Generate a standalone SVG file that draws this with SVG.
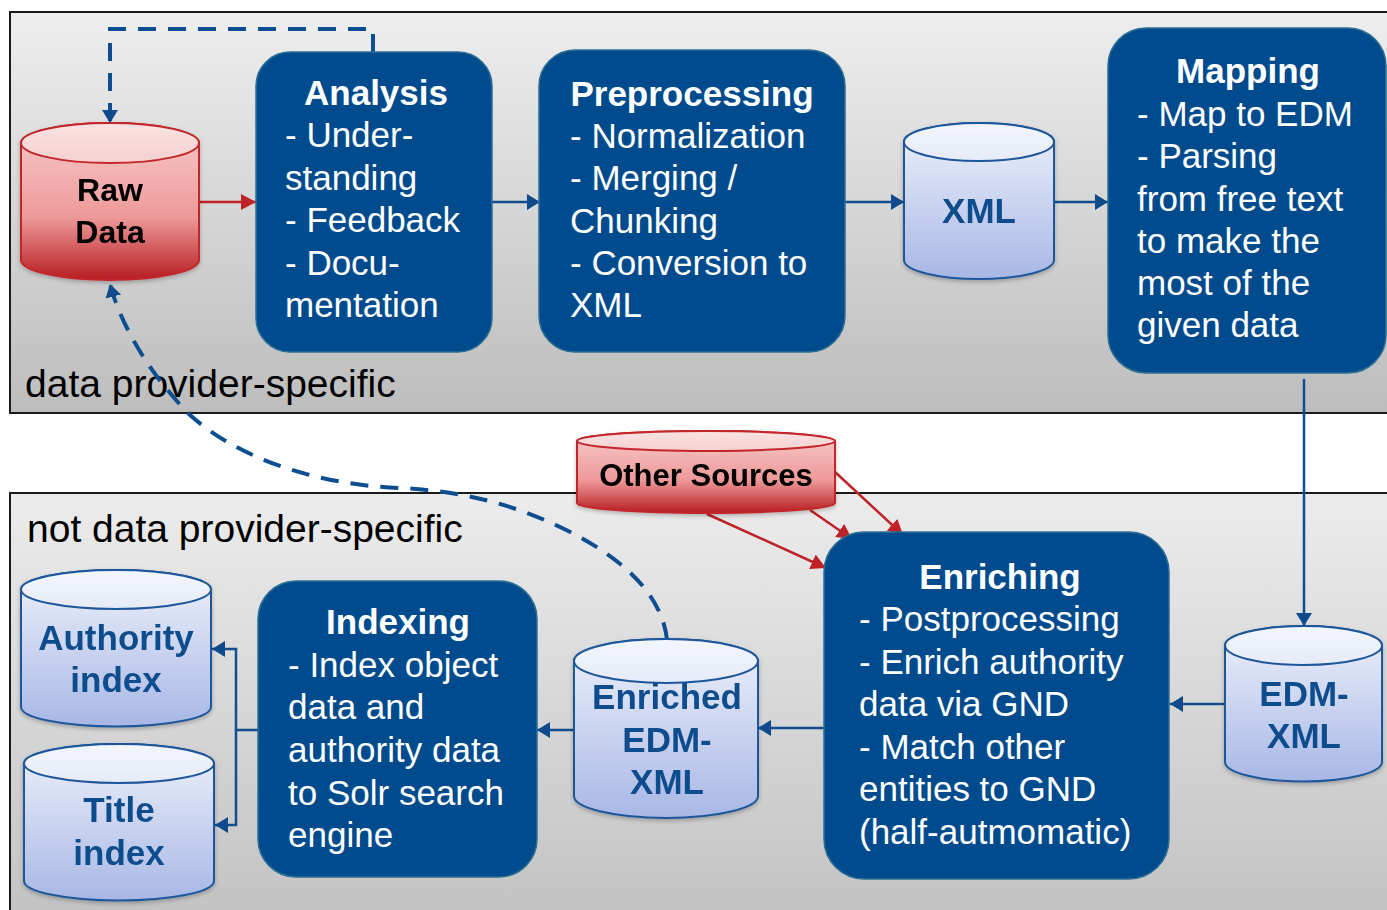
<svg xmlns="http://www.w3.org/2000/svg" width="1387" height="910" viewBox="0 0 1387 910">
<defs>
  <linearGradient id="gPanelTop" x1="0" y1="0" x2="0" y2="1">
    <stop offset="0" stop-color="#eeeeee"/><stop offset="1" stop-color="#bdbdbd"/>
  </linearGradient>
  <linearGradient id="gPanelBot" x1="0" y1="0" x2="0" y2="1">
    <stop offset="0" stop-color="#ececec"/><stop offset="1" stop-color="#c2c2c2"/>
  </linearGradient>
  <linearGradient id="gBlue" x1="0" y1="0" x2="0" y2="1">
    <stop offset="0" stop-color="#eef2fb"/><stop offset="1" stop-color="#a8b7e5"/>
  </linearGradient>
  <linearGradient id="gBlueTop" x1="0" y1="0" x2="0" y2="1">
    <stop offset="0" stop-color="#f3f6fd"/><stop offset="1" stop-color="#e6ebf8"/>
  </linearGradient>
  <linearGradient id="gRed" x1="0" y1="0" x2="0" y2="1">
    <stop offset="0" stop-color="#f8cccc"/><stop offset="0.6" stop-color="#ee9999"/><stop offset="1" stop-color="#b71d21"/>
  </linearGradient>
  <linearGradient id="gRedTop" x1="0" y1="0" x2="0" y2="1">
    <stop offset="0" stop-color="#fbe3e3"/><stop offset="1" stop-color="#f6d0d0"/>
  </linearGradient>
  <marker id="aBlue" markerUnits="userSpaceOnUse" markerWidth="14" markerHeight="16" refX="13" refY="8" orient="auto">
    <path d="M0,0 L13,8 L0,16 z" fill="#0f4a8c"/>
  </marker>
  <marker id="aRed" markerUnits="userSpaceOnUse" markerWidth="16" markerHeight="16" refX="15" refY="8" orient="auto">
    <path d="M0,0 L15,8 L0,16 z" fill="#bf2227"/>
  </marker>
  <filter id="sh" x="-10%" y="-10%" width="120%" height="130%">
    <feDropShadow dx="0" dy="2" stdDeviation="2" flood-color="#000" flood-opacity="0.25"/>
  </filter>
</defs>
<style>
  .panel{stroke:#1a1a1a;stroke-width:2}
  .box{fill:#004b8d;stroke:#2b7093;stroke-width:1.5}
  .t{font-family:"Liberation Sans",Arial,sans-serif;font-size:35px;fill:#ffffff}
  .tb{font-family:"Liberation Sans",Arial,sans-serif;font-size:35px;font-weight:bold;fill:#ffffff}
  .lbl{font-family:"Liberation Sans",Arial,sans-serif;font-size:39px;fill:#000000}
  .cb{fill:url(#gBlue);stroke:#1f579b;stroke-width:2}
  .ct{fill:url(#gBlueTop);stroke:#1f579b;stroke-width:2}
  .cr{fill:url(#gRed);stroke:#c3262b;stroke-width:2}
  .crt{fill:url(#gRedTop);stroke:#c3262b;stroke-width:2}
  .ctxt{font-family:"Liberation Sans",Arial,sans-serif;font-size:35px;font-weight:bold;fill:#114d8d;text-anchor:middle}
  .rtxt{font-family:"Liberation Sans",Arial,sans-serif;font-weight:bold;fill:#000000;text-anchor:middle}
  .ln{fill:none;stroke:#124d8e;stroke-width:2.5}
  .lr{fill:none;stroke:#bf2227;stroke-width:2.5}
  .dash{fill:none;stroke:#0d4e91;stroke-width:4;stroke-dasharray:18 12}
</style>

<g id="panels">
  <rect class="panel" x="10" y="12" width="1395" height="401" fill="url(#gPanelTop)"/>
  <rect class="panel" x="10" y="493" width="1395" height="430" fill="url(#gPanelBot)"/>
  <text class="lbl" x="25" y="397">data provider-specific</text>
  <text class="lbl" x="27" y="542">not data provider-specific</text>
</g>

<g id="connectors">
  <path class="lr" d="M199,202 H256" marker-end="url(#aRed)"/>
  <path class="ln" d="M492,202 H540" marker-end="url(#aBlue)"/>
  <path class="ln" d="M845,202 H904" marker-end="url(#aBlue)"/>
  <path class="ln" d="M1054,202 H1108" marker-end="url(#aBlue)"/>
  <path class="ln" d="M1304,379 V626" marker-end="url(#aBlue)"/>
  <path class="ln" d="M1225,704 H1170" marker-end="url(#aBlue)"/>
  <path class="ln" d="M824,728 H758" marker-end="url(#aBlue)"/>
  <path class="ln" d="M574,730 H537" marker-end="url(#aBlue)"/>
  <path class="ln" d="M258,730 H236 V649 H212" marker-end="url(#aBlue)"/>
  <path class="ln" d="M236,730 V825 H215" marker-end="url(#aBlue)"/>
  <path class="lr" d="M707,514 L826,568" marker-end="url(#aRed)"/>
  <path class="lr" d="M810,510 L852,539" marker-end="url(#aRed)"/>
  <path class="lr" d="M835,472 L903,535" marker-end="url(#aRed)"/>
  <path class="dash" d="M373,52 V29 H110 V123" marker-end="url(#aBlue)"/>
  <path class="dash" d="M667,640 C663,600 630,560 560,527 C510,503 460,491 400,488 C320,485 240,460 190,415 C155,380 122,330 110,284" marker-end="url(#aBlue)"/>
</g>

<g id="raw-data" filter="url(#sh)">
  <path class="cr" d="M21,143 V260 A89,20 0 0 0 199,260 V143 A89,20 0 0 0 21,143 Z"/>
  <ellipse class="crt" cx="110" cy="143" rx="89" ry="20"/>
  <text class="rtxt" x="110" y="201" font-size="32">Raw</text>
  <text class="rtxt" x="110" y="243" font-size="32">Data</text>
</g>

<g id="analysis">
  <rect class="box" x="256" y="52" width="236" height="300" rx="34"/>
  <text class="tb" x="376" y="105" text-anchor="middle">Analysis</text>
  <text class="t" x="285" y="147">- Under-</text>
  <text class="t" x="285" y="190">standing</text>
  <text class="t" x="285" y="232">- Feedback</text>
  <text class="t" x="285" y="275">- Docu-</text>
  <text class="t" x="285" y="317">mentation</text>
</g>

<g id="preprocessing">
  <rect class="box" x="539" y="50" width="306" height="302" rx="36"/>
  <text class="tb" x="692" y="106" text-anchor="middle">Preprocessing</text>
  <text class="t" x="570" y="148">- Normalization</text>
  <text class="t" x="570" y="190">- Merging /</text>
  <text class="t" x="570" y="233">Chunking</text>
  <text class="t" x="570" y="275">- Conversion to</text>
  <text class="t" x="570" y="317">XML</text>
</g>

<g id="xml" filter="url(#sh)">
  <path class="cb" d="M904,142 V260 A75,19 0 0 0 1054,260 V142 A75,19 0 0 0 904,142 Z"/>
  <ellipse class="ct" cx="979" cy="142" rx="75" ry="19"/>
  <text class="ctxt" x="979" y="223">XML</text>
</g>

<g id="mapping">
  <rect class="box" x="1108" y="28" width="278" height="345" rx="38"/>
  <text class="tb" x="1248" y="83" text-anchor="middle">Mapping</text>
  <text class="t" x="1137" y="126">- Map to EDM</text>
  <text class="t" x="1137" y="168">- Parsing</text>
  <text class="t" x="1137" y="211">from free text</text>
  <text class="t" x="1137" y="253">to make the</text>
  <text class="t" x="1137" y="295">most of the</text>
  <text class="t" x="1137" y="337">given data</text>
</g>

<g id="other-sources" filter="url(#sh)">
  <path class="cr" d="M577,441 V503 A129,10 0 0 0 835,503 V441 A129,10 0 0 0 577,441 Z"/>
  <ellipse class="crt" cx="706" cy="441" rx="129" ry="10"/>
  <text class="rtxt" x="706" y="486" font-size="31">Other Sources</text>
</g>

<g id="enriching">
  <rect class="box" x="824" y="532" width="345" height="347" rx="40"/>
  <text class="tb" x="1000" y="589" text-anchor="middle">Enriching</text>
  <text class="t" x="859" y="631">- Postprocessing</text>
  <text class="t" x="859" y="674">- Enrich authority</text>
  <text class="t" x="859" y="716">data via GND</text>
  <text class="t" x="859" y="759">- Match other</text>
  <text class="t" x="859" y="801">entities to GND</text>
  <text class="t" x="859" y="844">(half-autmomatic)</text>
</g>

<g id="edm-xml" filter="url(#sh)">
  <path class="cb" d="M1225,645.5 V762 A78.5,19.5 0 0 0 1382,762 V645.5 A78.5,19.5 0 0 0 1225,645.5 Z"/>
  <ellipse class="ct" cx="1303.5" cy="645.5" rx="78.5" ry="19.5"/>
  <text class="ctxt" x="1304" y="706">EDM-</text>
  <text class="ctxt" x="1304" y="748">XML</text>
</g>

<g id="enriched-edm-xml" filter="url(#sh)">
  <path class="cb" d="M574,661 V796 A92,22 0 0 0 758,796 V661 A92,22 0 0 0 574,661 Z"/>
  <ellipse class="ct" cx="666" cy="661" rx="92" ry="22"/>
  <text class="ctxt" x="667" y="709">Enriched</text>
  <text class="ctxt" x="667" y="752">EDM-</text>
  <text class="ctxt" x="667" y="794">XML</text>
</g>

<g id="indexing">
  <rect class="box" x="258" y="581" width="279" height="296" rx="38"/>
  <text class="tb" x="398" y="634" text-anchor="middle">Indexing</text>
  <text class="t" x="288" y="677">- Index object</text>
  <text class="t" x="288" y="719">data and</text>
  <text class="t" x="288" y="762">authority data</text>
  <text class="t" x="288" y="805">to Solr search</text>
  <text class="t" x="288" y="847">engine</text>
</g>

<g id="authority-index" filter="url(#sh)">
  <path class="cb" d="M21,589.5 V707 A95,19.5 0 0 0 211,707 V589.5 A95,19.5 0 0 0 21,589.5 Z"/>
  <ellipse class="ct" cx="116" cy="589.5" rx="95" ry="19.5"/>
  <text class="ctxt" x="116" y="650">Authority</text>
  <text class="ctxt" x="116" y="692">index</text>
</g>

<g id="title-index" filter="url(#sh)">
  <path class="cb" d="M24,763.5 V881 A95,19.5 0 0 0 214,881 V763.5 A95,19.5 0 0 0 24,763.5 Z"/>
  <ellipse class="ct" cx="119" cy="763.5" rx="95" ry="19.5"/>
  <text class="ctxt" x="119" y="822">Title</text>
  <text class="ctxt" x="119" y="865">index</text>
</g>
</svg>
